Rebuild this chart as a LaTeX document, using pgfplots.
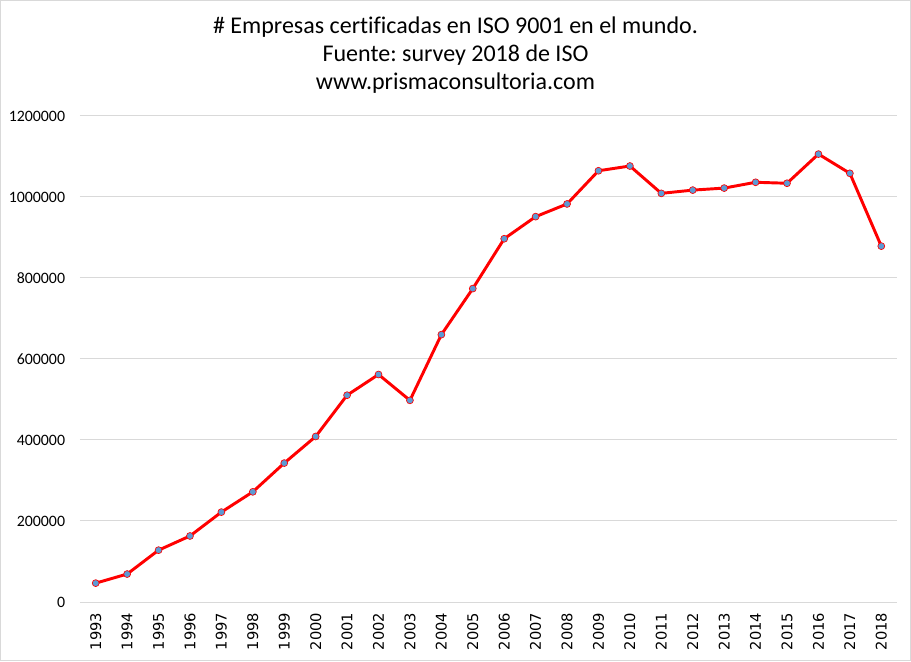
\documentclass[border=0pt]{standalone}
\usepackage{pgfplots}
\pgfplotsset{compat=1.18}
\usepackage{fontspec}
\setmainfont{Carlito}
\newfontfamily\titlefont[Ligatures=NoCommon]{Carlito}
\newfontfamily\xfont{DejaVu Sans}
\definecolor{gridc}{RGB}{217,217,217}
\definecolor{mk}{RGB}{91,155,213}
\frenchspacing
\begin{document}
\begin{tikzpicture}[x=0.75pt,y=0.75pt]
\useasboundingbox (-80,-59) rectangle (831,602);
\draw[gridc,line width=0.75pt] (-79.5,-58.5) rectangle (830.5,601.5);
\begin{axis}[
  at={(0,0)}, anchor=south west,
  scale only axis,
  width=612.75pt, height=364.5pt,
  xmin=-0.5, xmax=25.5,
  ymin=0, ymax=1200000,
  ytick={0,200000,400000,600000,800000,1000000,1200000},
  xtick={0,...,25},
  xticklabels={1993,1994,1995,1996,1997,1998,1999,2000,2001,2002,2003,2004,2005,2006,2007,2008,2009,2010,2011,2012,2013,2014,2015,2016,2017,2018},
  x tick label style={rotate=90, anchor=east, font=\xfont\fontsize{11}{13}\selectfont, inner sep=0pt},
  xticklabel shift=8pt,
  y tick label style={font=\fontsize{11.9}{13}\selectfont, inner sep=0pt},
  yticklabel shift=11pt,
  /pgf/number format/fixed,
  /pgf/number format/1000 sep={},
  /pgf/number format/assume math mode=true,
  scaled y ticks=false,
  axis line style={draw=none},
  major tick length=0pt,
  ymajorgrids,
  grid style={gridc, line width=0.75pt},
  clip=false,
]
\addplot[red, line width=2.2pt, mark=*, mark size=2.6pt,
  mark options={fill=mk, draw=red, line width=0.5pt}]
coordinates {
(0,46571) (1,69000) (2,128000) (3,163000) (4,222000) (5,272000) (6,343000)
(7,408631) (8,510616) (9,561747) (10,497919) (11,660132) (12,773867)
(13,896929) (14,951486) (15,982832) (16,1064785) (17,1076525) (18,1009000)
(19,1017000) (20,1022000) (21,1036321) (22,1033936) (23,1105937) (24,1058504)
(25,878664)
};
\end{axis}
\node[align=center, font=\titlefont\fontsize{18}{21}\selectfont] at (375.5,547) {\# Empresas certificadas en ISO 9001 en el mundo.\\Fuente: survey 2018 de ISO\\www.prismaconsultoria.com};
\end{tikzpicture}
\end{document}
